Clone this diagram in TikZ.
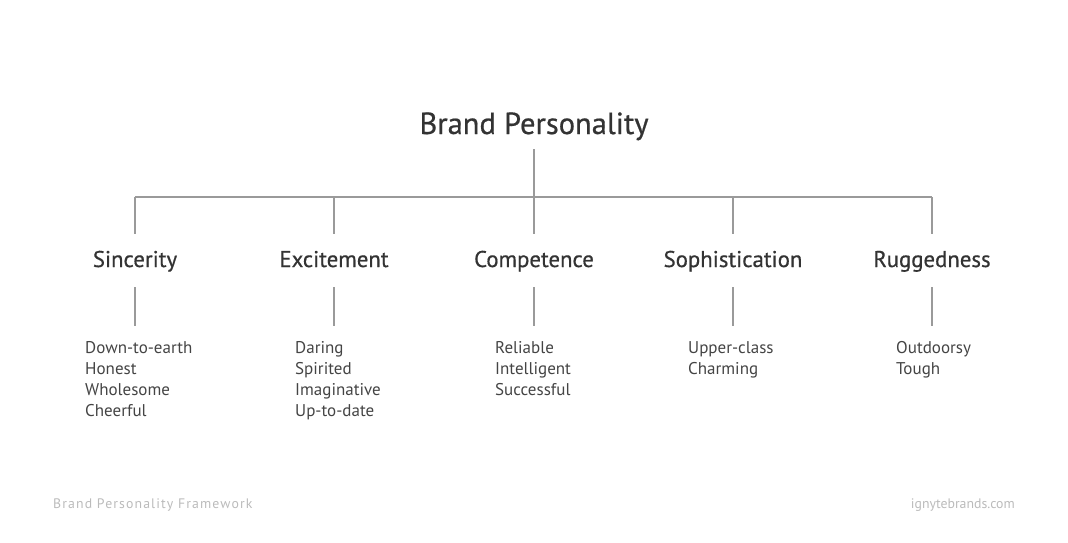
\documentclass[tikz,border=0pt]{standalone}
\usepackage{fontspec}
\setmainfont{PT Sans}
\newfontfamily\medfont[FakeBold=0.6]{PT Sans}
\newfontfamily\widefont[LetterSpace=8]{PT Sans}
\usetikzlibrary{positioning}
\definecolor{inkdark}{HTML}{333333}
\definecolor{inklist}{HTML}{444444}
\definecolor{rulegray}{HTML}{9A9A9A}
\definecolor{footgray}{HTML}{BBBBBB}
\tikzset{
    title/.style={anchor=base,text=inkdark,font=\medfont\fontsize{30.5}{32}\selectfont,inner sep=0pt},
    trait/.style={anchor=base,text=inkdark,font=\medfont\fontsize{22.8}{26}\selectfont,inner sep=0pt},
    facets/.style={anchor=north west,text=inklist,font=\fontsize{17}{21}\selectfont,
        align=left,inner sep=0pt},
    footer/.style={anchor=base,text=footgray,font=\fontsize{13.8}{16}\selectfont,inner sep=0pt},
    branch/.style={rulegray,line width=1.1pt},
}
\begin{document}
\begin{tikzpicture}[x=1pt,y=-1pt]
\useasboundingbox (0,0) rectangle (1068,542);
% top of the tree
\node[title] (bp) at (534,134) {Brand Personality};
\coordinate (hub) at (534,197);
\coordinate (left) at (135,197);
\coordinate (right) at (932,197);
\draw[branch] (534,149) -- (hub);
\draw[branch] (left) -- (right);
% the five traits
\node[trait] (sin) at (135,267) {Sincerity};
\node[trait] (exc) at (334,267) {Excitement};
\node[trait] (com) at (534,267) {Competence};
\node[trait] (sop) at (733,267) {Sophistication};
\node[trait] (rug) at (932,267) {Ruggedness};
\foreach \t/\x in {sin/135,exc/334,com/534,sop/733,rug/932}{
    \draw[branch] (\x,197) -- (\x,234);
    \draw[branch] (\x,287) -- (\x,326);
}
% facets below each trait
\node[facets] (sinlist) at (85,341) {Down-to-earth\\Honest\\Wholesome\\Cheerful};
\node[facets] (exclist) at (295,341) {Daring\\Spirited\\Imaginative\\Up-to-date};
\node[facets] (comlist) at (495,341) {Reliable\\Intelligent\\Successful};
\node[facets] (soplist) at (688,341) {Upper-class\\Charming};
\node[facets] (ruglist) at (896,341) {Outdoorsy\\Tough};
% footer
\node[footer,anchor=base west,font=\widefont\fontsize{13.8}{16}\selectfont] (frame) at (53,508) {Brand Personality Framework};
\node[footer,anchor=base east] (site) at (1015,508) {ignytebrands.com};
\end{tikzpicture}
\end{document}
